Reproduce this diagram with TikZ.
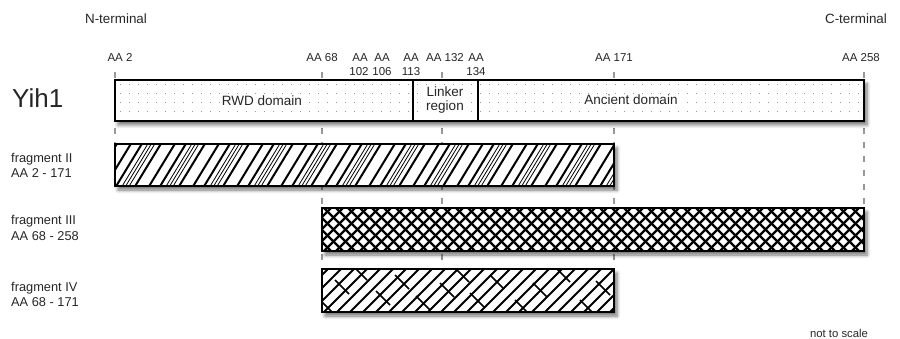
\documentclass[tikz,border=0pt]{standalone}
\usepackage{fontspec}
\setmainfont{Liberation Sans}
\usetikzlibrary{shadows.blur,backgrounds}
\begin{document}
\begin{tikzpicture}[x=1pt,y=-1pt,
  txt/.style={inner sep=0pt, anchor=base, text=black!85},
  aa/.style={txt, font=\fontsize{11.5}{13}\selectfont},
  fraglabel/.style={txt, anchor=base west, font=\fontsize{12.8}{15}\selectfont},
  dom/.style={txt, font=\fontsize{13.5}{16}\selectfont, fill=white, inner sep=1pt},
  bar/.style={rectangle, draw=black, line width=2pt, fill=white, inner sep=0pt, outer sep=0pt,
    anchor=north west,
    blur shadow={shadow xshift=3pt, shadow yshift=-4pt, shadow blur steps=6, shadow blur radius=3.5pt, shadow opacity=55}},
  frame/.style={draw=black, line width=2.2pt},
  guide/.style={draw=black!40, line width=1.3pt, dash pattern=on 6pt off 8pt},
  dotmark/.style={fill=black!40},
  hatch/.style={line width=2pt},
  crosshatch/.style={line width=2.3pt},
  thinhatch/.style={line width=0.8pt},
]
\useasboundingbox (0,0) rectangle (900,339);

% headings
\node[txt, font=\fontsize{13.4}{16}\selectfont] (nterm) at (116,24) {N-terminal};
\node[txt, font=\fontsize{13.4}{16}\selectfont] (cterm) at (856,24) {C-terminal};
\node[txt, anchor=base west, font=\fontsize{26}{30}\selectfont] (yih) at (12,108) {Yih1};

% residue labels
\node[aa] (l2) at (120,62) {AA 2};
\node[aa] (l68) at (322,62) {AA 68};
\node[aa] (l102a) at (360,62) {AA};
\node[aa] (l102b) at (359,76) {102};
\node[aa] (l106a) at (382,62) {AA};
\node[aa] (l106b) at (382,76) {106};
\node[aa] (l113a) at (411,62) {AA};
\node[aa] (l113b) at (411,76) {113};
\node[aa] (l132) at (445,62) {AA 132};
\node[aa] (l134a) at (476,62) {AA};
\node[aa] (l134b) at (476,76) {134};
\node[aa] (l171) at (614,62) {AA 171};
\node[aa] (l258) at (861,62) {AA 258};

\coordinate (t2) at (115,72);
\coordinate (t68) at (322,72);
\coordinate (t132) at (442,72);
\coordinate (t171) at (614,72);
\coordinate (t258) at (864,72);

% main protein bar
\node[bar, minimum width=749pt, minimum height=41pt] (main) at (115,80) {};
\begin{scope}
  \clip (main.north west) rectangle (main.south east);
  \foreach \i in {0,...,82}{\foreach \j in {0,...,3}{
    \fill[dotmark] (120+\i*9,84+\j*9) rectangle ++(1.4,1.4);}}
\end{scope}
\draw[frame] (main.north west) rectangle (main.south east);
\draw[line width=1.6pt] (413,80) -- (413,121);
\draw[line width=1.6pt] (478,80) -- (478,121);
\node[dom] (rwd) at (262,106) {RWD domain};
\node[dom] (link1) at (445,97) {Linker};
\node[dom] (link2) at (445,111) {region};
\node[dom] (anc) at (631,105) {Ancient domain};

% fragment II
\node[bar, minimum width=499pt, minimum height=42pt] (f2) at (115,144) {};
\begin{scope}
  \clip (f2.north west) rectangle (f2.south east);
  \foreach \k in {-1,...,12}{
    \draw[hatch] ({115+\k*44},188) -- ++(28,-46);
    \draw[thinhatch] ({121+\k*44},188) -- ++(28,-46);
    \draw[thinhatch] ({124.5+\k*44},188) -- ++(28,-46);
    \draw[thinhatch] ({128+\k*44},188) -- ++(28,-46);
    \draw[hatch] ({134+\k*44},188) -- ++(28,-46);
    \draw[hatch] ({148+\k*44},188) -- ++(28,-46);
  }
\end{scope}
\draw[frame] (f2.north west) rectangle (f2.south east);

% fragment III
\node[bar, minimum width=542pt, minimum height=43pt] (f3) at (322,208) {};
\begin{scope}
  \clip (f3.north west) rectangle (f3.south east);
  \foreach \k in {-5,...,46}{
    \draw[crosshatch] ({322+\k*12},253) -- ++(47,-47);
    \draw[crosshatch] ({322+\k*12},206) -- ++(47,47);
  }
\end{scope}
\draw[frame] (f3.north west) rectangle (f3.south east);

% fragment IV
\node[bar, minimum width=292pt, minimum height=43pt] (f4) at (322,269) {};
\begin{scope}
  \clip (f4.north west) rectangle (f4.south east);
  \foreach \k in {-4,...,23}{
    \draw[hatch] ({322+\k*13},314) -- ++(47,-47);
  }
  \foreach \px/\py in {20/18,38/4,61/29,80/13,101/34,125/21,140/6,155/31,175/13,200/38,218/21,241/6,265/38,281/19,3/36}{
    \draw[line width=1.6pt] (315+\px,262+\py) -- (329+\px,276+\py);
  }
\end{scope}
\draw[frame] (f4.north west) rectangle (f4.south east);

% guide lines behind the bars
\begin{pgfonlayer}{background}
  \draw[guide] (t2) -- (t2 |- f2.north);
  \draw[guide] (t68) -- (t68 |- f4.north);
  \draw[guide] (t132) -- (t132 |- f4.north);
  \draw[guide] (t171) -- (t171 |- f4.north);
  \draw[guide] (t258) -- (t258 |- f3.north);
\end{pgfonlayer}

% fragment labels
\node[fraglabel] (f2a) at (11,163) {fragment II};
\node[fraglabel] (f2b) at (11,178) {AA 2 - 171};
\node[fraglabel] (f3a) at (11,225) {fragment III};
\node[fraglabel] (f3b) at (11,241) {AA 68 - 258};
\node[fraglabel] (f4a) at (11,291) {fragment IV};
\node[fraglabel] (f4b) at (11,306) {AA 68 - 171};

\node[txt, font=\fontsize{11.3}{13}\selectfont] (nts) at (839,337) {not to scale};
\end{tikzpicture}
\end{document}
